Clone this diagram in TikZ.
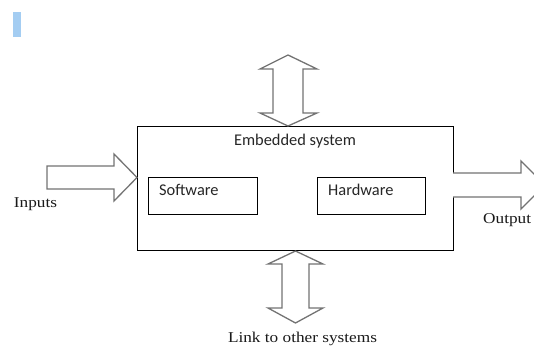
\documentclass[tikz,border=0pt]{standalone}
\usepackage{fontspec}
\setmainfont{Liberation Serif}
\newfontfamily\boxfont{Carlito}
\newfontfamily\labelfont[FakeStretch=1.15]{Liberation Serif}
\begin{document}
\begin{tikzpicture}[x=1pt,y=-1pt,
  blockarrow/.style={draw=black!55,line width=1.3pt,line join=miter,fill=white},
  sysbox/.style={draw=black,line width=0.9pt},
  boxtext/.style={font=\boxfont\fontsize{16.4}{18}\selectfont,text=black!85,inner sep=0pt},
  outlabel/.style={font=\labelfont\fontsize{15}{17}\selectfont,text=black!90,inner sep=0pt}]
\useasboundingbox (0,0) rectangle (534,347);
\fill[fill={rgb,255:red,164;green,205;blue,242}] (13,12) rectangle (21,37);

% embedded system and its two parts
\draw[sysbox] (137,126) rectangle (453,250);
\node[boxtext] (title) at (295,141) {Embedded system};
\draw[sysbox] (148,177) rectangle (257,214);
\draw[sysbox] (317,177) rectangle (425,214);
\node[boxtext,anchor=west] (sw) at (159,190) {Software};
\node[boxtext,anchor=west] (hw) at (328,190) {Hardware};

% input arrow
\draw[blockarrow] (47,166) -- (114,166) -- (114,154) -- (137,177.5) -- (114,201) -- (114,189) -- (47,189) -- cycle;
\node[outlabel] (in) at (35.5,204) {Inputs};

% output arrow
\draw[blockarrow] (453,173) -- (521,173) -- (521,161) -- (545,185) -- (521,209) -- (521,197) -- (453,197);
\node[outlabel,anchor=west] (out) at (483,220) {Output};

% upper two-way arrow
\draw[blockarrow] (288,55) -- (317,69) -- (303,69) -- (303,113) -- (317,113) -- (288,126)
  -- (260,113) -- (273,113) -- (273,69) -- (260,69) -- cycle;

% lower two-way arrow
\draw[blockarrow] (295.5,251) -- (323,264) -- (309,264) -- (309,308) -- (323,308) -- (295.5,323)
  -- (268,308) -- (282,308) -- (282,264) -- (268,264) -- cycle;
\node[outlabel] (link) at (302.5,339) {Link to other systems};
\end{tikzpicture}
\end{document}
